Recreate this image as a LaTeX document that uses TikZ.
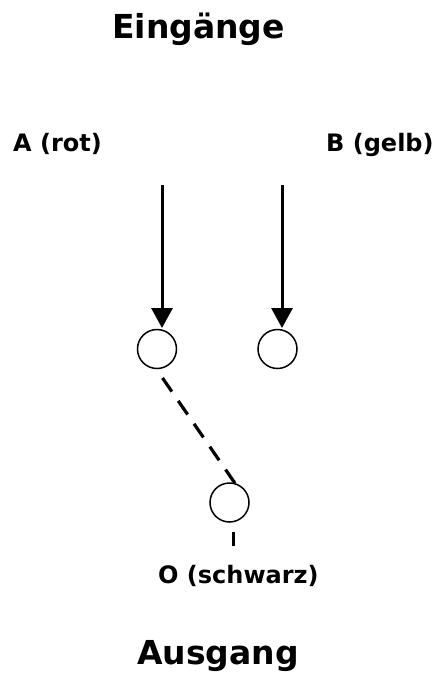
\documentclass[tikz,border=0pt]{standalone}
\usepackage{fontspec}
\setmainfont{DejaVu Sans}
\usetikzlibrary{arrows.meta}
\begin{document}
\begin{tikzpicture}[x=1pt,y=-1pt,
  title/.style={font=\bfseries\fontsize{33}{36}\selectfont, inner sep=0pt, anchor=base west},
  lbl/.style={font=\bfseries\fontsize{24}{28}\selectfont, inner sep=0pt, anchor=base west},
  port/.style={circle, draw, line width=1.5pt, minimum size=39pt, inner sep=0pt},
  feed/.style={line width=3pt, -{Triangle[length=20pt,width=21pt]}},
  link/.style={line width=3.2pt, dash pattern=on 16.5pt off 11.3pt}]
\useasboundingbox (0,0) rectangle (434,673);
\node[title] (tin) at (112,38) {Eingänge};
\node[lbl] (la) at (13,151) {A (rot)};
\node[lbl] (lb) at (326,151) {B (gelb)};
\node[port] (pa) at (157,349) {};
\node[port] (pb) at (277.5,349) {};
\node[port] (po) at (229.5,502.5) {};
\coordinate (sa) at (162,185);
\coordinate (ta) at (162,328);
\coordinate (sb) at (282,185);
\coordinate (tb) at (282,328);
\draw[feed] (sa) -- (ta);
\draw[feed] (sb) -- (tb);
\coordinate (da) at (162.5,378);
\coordinate (db) at (235,483.3);
\draw[link] (da) -- (db);
\coordinate (oa) at (233.5,532);
\coordinate (ob) at (233.5,546);
\draw[line width=3pt] (oa) -- (ob);
\node[lbl] (lo) at (158,583) {O (schwarz)};
\node[title] (tout) at (137,664) {Ausgang};
\end{tikzpicture}
\end{document}
